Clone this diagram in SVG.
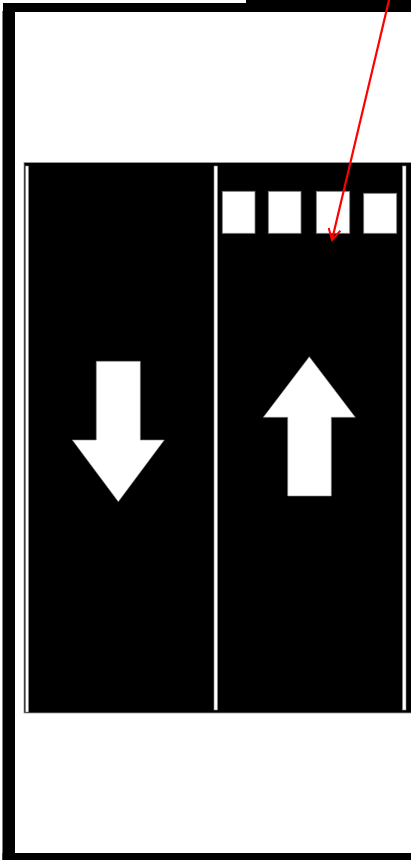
<svg xmlns="http://www.w3.org/2000/svg" width="411" height="860" viewBox="0 0 411 860">
<defs>
<style>
.frame{fill:#000}
.lane{fill:#fff;stroke:#888;stroke-width:0.6}
.sq{fill:#fff;stroke:#777;stroke-width:0.8}
.arrow{fill:#fff;stroke:#888;stroke-width:0.6}
.conn{stroke:#f00;stroke-width:2.2;fill:none}
</style>
<marker id="chev" viewBox="0 0 14 14" refX="12" refY="7" markerWidth="14" markerHeight="14" markerUnits="userSpaceOnUse" orient="auto">
<path d="M1,1 L12,7 L1,13" fill="none" stroke="#f00" stroke-width="2"/>
</marker>
</defs>
<rect width="411" height="860" fill="#fff"/>
<g id="frame">
<rect class="frame" x="3" y="3" width="243" height="9"/>
<rect class="frame" x="246" y="0" width="165" height="12"/>
<rect class="frame" x="2.5" y="11" width="12.5" height="849"/>
<rect class="frame" x="2.5" y="853" width="408.5" height="7"/>
</g>
<g id="panel">
<rect x="24" y="162.5" width="388" height="550.5" fill="#000" stroke="#999" stroke-width="0.8"/>
<rect class="lane" x="25.5" y="166" width="3" height="546"/>
<rect class="lane" x="214" y="166" width="3.5" height="544"/>
<rect class="lane" x="402.5" y="166" width="3.5" height="544"/>
</g>
<g id="squares">
<rect class="sq" x="222.3" y="191.3" width="32.7" height="42"/>
<rect class="sq" x="268.3" y="191.3" width="32.7" height="42"/>
<rect class="sq" x="316.3" y="191.3" width="33.4" height="42"/>
<rect class="sq" x="363.7" y="193.3" width="33" height="40"/>
</g>
<g id="down-arrow">
<polygon class="arrow" points="96.3,361.3 140.3,361.3 140.3,440 164.3,440 118.3,501.7 72.3,440 96.3,440"/>
</g>
<g id="up-arrow">
<polygon class="arrow" points="309.3,356.7 355.3,417.3 331.3,417.3 331.3,496 287.7,496 287.7,417.3 263.3,417.3"/>
</g>
<g id="connectors">
<line class="conn" x1="389.5" y1="-2" x2="332" y2="240" marker-end="url(#chev)"/>
</g>
</svg>
